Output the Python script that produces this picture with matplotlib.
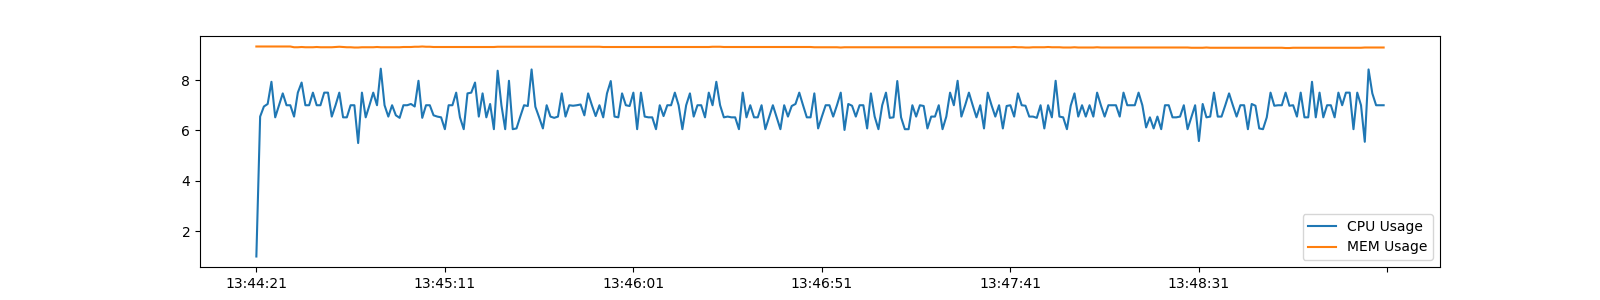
import matplotlib
matplotlib.use("Agg")
import matplotlib.pyplot as plt

start_label_times = ["13:44:21", "13:45:11", "13:46:01", "13:46:51", "13:47:41", "13:48:31"]

cpu_usage = [
    1.00, 6.55, 6.95, 7.05, 7.93, 6.52, 7.00, 7.47, 7.00, 7.00,
    6.55, 7.50, 7.90, 7.00, 7.00, 7.50, 7.00, 7.00, 7.50, 7.50,
    6.55, 7.00, 7.50, 6.52, 6.52, 7.00, 7.00, 5.50, 7.50, 6.52,
    7.00, 7.50, 7.00, 8.45, 7.00, 6.55, 7.00, 6.60, 6.50, 7.00,
    7.00, 7.05, 6.95, 7.97, 6.50, 7.00, 7.00, 6.60, 6.55, 6.52,
    6.05, 7.00, 7.00, 7.50, 6.52, 6.05, 7.47, 7.50, 7.90, 6.55,
    7.47, 6.52, 7.05, 6.05, 8.37, 7.00, 6.05, 7.97, 6.05, 6.08,
    6.55, 7.00, 6.97, 8.42, 6.94, 6.52, 6.08, 7.00, 6.55, 6.50,
    6.55, 7.47, 6.55, 7.00, 6.98, 7.00, 7.03, 6.60, 7.47, 7.00,
    6.57, 7.00, 6.52, 7.47, 7.96, 6.55, 6.52, 7.47, 7.00, 6.97,
    7.50, 6.05, 7.50, 6.55, 6.52, 6.52, 6.05, 7.00, 6.57, 7.00,
    7.00, 7.50, 7.00, 6.05, 7.00, 7.47, 6.55, 7.00, 7.00, 6.52,
    7.50, 7.00, 7.93, 7.00, 6.52, 6.55, 6.52, 6.52, 6.05, 7.50,
    6.52, 7.00, 6.52, 6.52, 7.00, 6.05, 6.52, 7.00, 6.52, 6.05,
    7.00, 6.55, 6.97, 7.05, 7.50, 7.00, 6.52, 6.52, 7.47, 6.08,
    6.55, 7.00, 7.00, 6.55, 7.00, 7.50, 6.02, 7.05, 6.98, 6.55,
    7.00, 7.00, 6.08, 7.47, 6.55, 6.05, 7.00, 7.50, 6.50, 6.52,
    7.96, 6.52, 6.05, 6.05, 7.00, 6.55, 7.00, 6.97, 6.08, 6.55,
    6.55, 7.00, 6.05, 6.55, 7.50, 7.00, 7.97, 6.55, 7.00, 7.50,
    7.00, 6.52, 7.00, 6.08, 7.50, 7.00, 6.55, 7.00, 6.08, 6.97,
    7.00, 6.55, 7.47, 7.00, 6.98, 6.55, 6.55, 6.50, 7.00, 6.08,
    7.00, 6.52, 7.97, 6.55, 6.52, 6.05, 6.98, 7.47, 6.55, 7.00,
    6.55, 7.00, 6.55, 7.50, 7.00, 6.55, 7.00, 7.00, 7.00, 6.55,
    7.50, 7.00, 7.00, 7.00, 7.50, 7.00, 6.12, 6.52, 6.08, 6.55,
    6.05, 7.00, 7.00, 6.52, 6.52, 6.55, 7.00, 6.05, 6.52, 7.00,
    5.58, 7.05, 6.52, 6.55, 7.50, 6.55, 6.55, 7.00, 7.47, 7.00,
    6.55, 7.00, 7.00, 6.05, 7.05, 6.98, 6.08, 6.05, 6.52, 7.50,
    6.98, 7.00, 7.00, 7.50, 6.98, 7.00, 6.55, 7.50, 6.52, 6.52,
    7.93, 6.52, 7.50, 6.52, 7.00, 7.00, 6.52, 7.50, 7.00, 7.50,
    7.50, 6.05, 7.50, 7.00, 5.55, 8.42, 7.47, 7.00, 7.00, 7.00,
]

mem_usage = [
    9.33, 9.33, 9.33, 9.33, 9.33, 9.33, 9.33, 9.33, 9.33, 9.33,
    9.30, 9.30, 9.31, 9.30, 9.30, 9.30, 9.31, 9.30, 9.30, 9.30,
    9.30, 9.31, 9.32, 9.31, 9.30, 9.30, 9.29, 9.29, 9.30, 9.30,
    9.30, 9.30, 9.31, 9.30, 9.30, 9.30, 9.30, 9.30, 9.30, 9.31,
    9.31, 9.31, 9.32, 9.32, 9.33, 9.32, 9.32, 9.31, 9.31, 9.31,
    9.31, 9.31, 9.31, 9.31, 9.31, 9.31, 9.31, 9.31, 9.31, 9.31,
    9.31, 9.31, 9.31, 9.31, 9.32, 9.32, 9.32, 9.32, 9.32, 9.32,
    9.32, 9.32, 9.32, 9.32, 9.32, 9.32, 9.32, 9.32, 9.32, 9.32,
    9.32, 9.32, 9.32, 9.32, 9.32, 9.32, 9.32, 9.32, 9.32, 9.32,
    9.32, 9.32, 9.31, 9.31, 9.31, 9.31, 9.31, 9.31, 9.31, 9.31,
    9.31, 9.31, 9.31, 9.31, 9.31, 9.31, 9.31, 9.31, 9.31, 9.31,
    9.31, 9.31, 9.31, 9.31, 9.31, 9.31, 9.31, 9.31, 9.31, 9.31,
    9.31, 9.32, 9.32, 9.32, 9.31, 9.31, 9.31, 9.31, 9.31, 9.31,
    9.31, 9.31, 9.31, 9.31, 9.31, 9.31, 9.31, 9.31, 9.31, 9.31,
    9.31, 9.31, 9.31, 9.31, 9.31, 9.31, 9.31, 9.31, 9.30, 9.30,
    9.30, 9.30, 9.30, 9.30, 9.30, 9.29, 9.30, 9.30, 9.30, 9.30,
    9.30, 9.30, 9.30, 9.30, 9.30, 9.30, 9.30, 9.30, 9.30, 9.30,
    9.30, 9.30, 9.30, 9.30, 9.30, 9.30, 9.30, 9.30, 9.30, 9.30,
    9.30, 9.30, 9.30, 9.30, 9.30, 9.30, 9.30, 9.30, 9.30, 9.30,
    9.30, 9.30, 9.30, 9.30, 9.30, 9.30, 9.30, 9.30, 9.30, 9.30,
    9.30, 9.31, 9.30, 9.30, 9.29, 9.29, 9.30, 9.30, 9.30, 9.30,
    9.31, 9.30, 9.30, 9.30, 9.29, 9.29, 9.29, 9.30, 9.29, 9.29,
    9.29, 9.29, 9.29, 9.30, 9.29, 9.29, 9.29, 9.29, 9.29, 9.29,
    9.29, 9.29, 9.29, 9.29, 9.29, 9.29, 9.29, 9.29, 9.29, 9.29,
    9.29, 9.29, 9.29, 9.29, 9.29, 9.29, 9.29, 9.29, 9.28, 9.28,
    9.28, 9.28, 9.29, 9.28, 9.28, 9.28, 9.28, 9.28, 9.28, 9.28,
    9.28, 9.28, 9.28, 9.28, 9.28, 9.28, 9.28, 9.28, 9.28, 9.28,
    9.28, 9.28, 9.28, 9.27, 9.27, 9.28, 9.28, 9.28, 9.28, 9.28,
    9.28, 9.28, 9.28, 9.28, 9.28, 9.28, 9.28, 9.28, 9.28, 9.28,
    9.28, 9.28, 9.28, 9.28, 9.29, 9.29, 9.29, 9.29, 9.29, 9.29,
]

tick_positions = [0, 50, 100, 150, 200, 250, 300]
tick_labels = start_label_times + [""]

x = list(range(len(cpu_usage)))

fig, ax = plt.subplots(figsize=(16, 3), dpi=100)
ax.plot(x, cpu_usage, label="CPU Usage")
ax.plot(x, mem_usage, label="MEM Usage")
ax.set_xticks(tick_positions)
ax.set_xticklabels(tick_labels)
ax.legend(loc="lower right")
fig.savefig("out.png", dpi=100)
